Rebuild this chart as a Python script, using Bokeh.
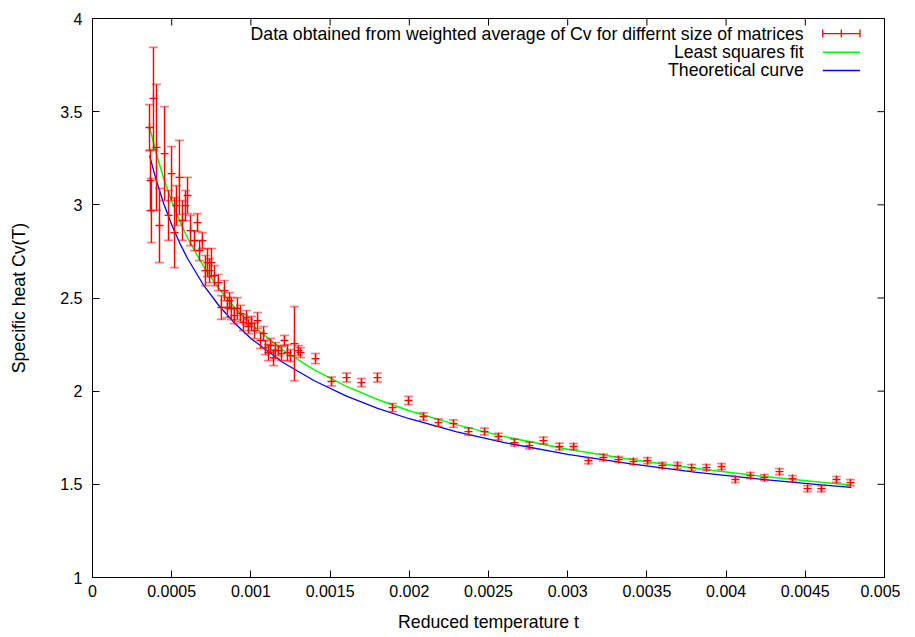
from bokeh.plotting import figure
from bokeh.models import Range1d, FixedTicker, Label, Arrow
from bokeh.embed import file_html
from bokeh.resources import INLINE

# ---------------- data ----------------
t_data = [0.000360, 0.000385, 0.000404, 0.000366, 0.000372, 0.000423, 0.000455,
          0.000480, 0.000499, 0.000518, 0.000530, 0.000549, 0.000568, 0.000587,
          0.000600, 0.000619, 0.000644, 0.000663, 0.000676, 0.000694, 0.000713,
          0.000726, 0.000739, 0.000751, 0.000770, 0.000795, 0.000814, 0.000833,
          0.000852, 0.000865, 0.000877, 0.000896, 0.000915, 0.000934, 0.000953,
          0.000972, 0.000985, 0.001004, 0.001023, 0.001042, 0.001061, 0.001080,
          0.001092, 0.001111, 0.001124, 0.001143, 0.001155, 0.001174, 0.001193,
          0.001212, 0.001231, 0.001250, 0.001275, 0.001300, 0.001313, 0.001408,
          0.001509, 0.001604, 0.001698, 0.001799, 0.001894, 0.001995, 0.002090,
          0.002184, 0.002279, 0.002374, 0.002475, 0.002563, 0.002664, 0.002759,
          0.002847, 0.002948, 0.003037, 0.003131, 0.003226, 0.003321, 0.003415,
          0.003504, 0.003598, 0.003693, 0.003782, 0.003876, 0.003971, 0.004059,
          0.004154, 0.004242, 0.004337, 0.004419, 0.004514, 0.004602, 0.004697,
          0.004785]
cv_data = [3.415, 3.571, 3.308, 3.130, 2.969, 2.889, 3.275,
           2.943, 3.168, 2.851, 2.996, 3.147, 2.916, 2.996,
           3.050, 2.862, 2.808, 2.905, 2.755, 2.808, 2.647,
           2.690, 2.647, 2.690, 2.620, 2.583, 2.449, 2.540,
           2.449, 2.486, 2.443, 2.406, 2.443, 2.417, 2.368,
           2.395, 2.347, 2.363, 2.325, 2.379, 2.272, 2.309,
           2.234, 2.207, 2.245, 2.180, 2.218, 2.218, 2.202,
           2.272, 2.207, 2.191, 2.255, 2.218, 2.207, 2.175,
           2.052, 2.073, 2.046, 2.073, 1.912, 1.950, 1.864,
           1.831, 1.826, 1.783, 1.783, 1.756, 1.724, 1.708,
           1.735, 1.703, 1.703, 1.627, 1.644, 1.633, 1.622,
           1.627, 1.601, 1.601, 1.590, 1.590, 1.595, 1.526,
           1.547, 1.536, 1.568, 1.531, 1.477, 1.477, 1.526,
           1.509]
cv_err = [0.123, 0.274, 0.338, 0.161, 0.172, 0.199, 0.252,
          0.134, 0.145, 0.188, 0.107, 0.199, 0.107, 0.081,
          0.097, 0.081, 0.054, 0.048, 0.054, 0.043, 0.081,
          0.075, 0.064, 0.075, 0.054, 0.043, 0.064, 0.054,
          0.054, 0.043, 0.059, 0.043, 0.059, 0.043, 0.043,
          0.038, 0.038, 0.038, 0.043, 0.043, 0.043, 0.038,
          0.038, 0.043, 0.038, 0.043, 0.043, 0.027, 0.038,
          0.027, 0.043, 0.032, 0.199, 0.027, 0.027, 0.027,
          0.024, 0.024, 0.022, 0.024, 0.022, 0.022, 0.020,
          0.020, 0.020, 0.020, 0.018, 0.018, 0.018, 0.018,
          0.018, 0.018, 0.016, 0.016, 0.018, 0.016, 0.016,
          0.016, 0.016, 0.016, 0.016, 0.016, 0.016, 0.016,
          0.016, 0.016, 0.016, 0.016, 0.016, 0.016, 0.016,
          0.016]

t_curve = [0.00036, 0.0004, 0.00045, 0.0005, 0.00055, 0.0006, 0.0007, 0.0008,
           0.0009, 0.001, 0.0012, 0.0014, 0.0016, 0.0018, 0.002, 0.0023,
           0.0026, 0.003, 0.0034, 0.0038, 0.0042, 0.0046, 0.00479]
cv_fit = [3.420, 3.284, 3.140, 3.019, 2.914, 2.822, 2.671, 2.548,
          2.446, 2.360, 2.222, 2.114, 2.027, 1.955, 1.895, 1.819,
          1.756, 1.688, 1.633, 1.586, 1.546, 1.511, 1.497]
cv_theory = [3.265, 3.139, 3.006, 2.893, 2.796, 2.712, 2.571, 2.457,
             2.363, 2.283, 2.155, 2.056, 1.975, 1.908, 1.852, 1.782,
             1.724, 1.661, 1.610, 1.566, 1.529, 1.497, 1.484]

x_ticks = [0, 0.0005, 0.001, 0.0015, 0.002, 0.0025, 0.003, 0.0035, 0.004, 0.0045, 0.005]
x_tick_labels = ["0", "0.0005", "0.001", "0.0015", "0.002", "0.0025", "0.003",
                 "0.0035", "0.004", "0.0045", "0.005"]
y_ticks = [1, 1.5, 2, 2.5, 3, 3.5, 4]
y_tick_labels = ["1", "1.5", "2", "2.5", "3", "3.5", "4"]

legend_labels = ["Data obtained from weighted average of Cv for differnt size of matrices",
                 "Least squares fit", "Theoretical curve"]
x_title = "Reduced temperature t"
y_title = "Specific heat Cv(T)"

# ---------------- styling ----------------
FONT = "Liberation Sans"
TICK_FS = "16px"
TEXT_FS = "17.7px"
RED, GREEN, BLUE = "#ff0000", "#00ff00", "#0000ff"
X0, X1, Y0, Y1 = 0, 0.005, 1, 4
FRAME_W, FRAME_H = 792, 559
TICK_PX = 7

p = figure(frame_width=FRAME_W, frame_height=FRAME_H,
           x_range=Range1d(X0, X1), y_range=Range1d(Y0, Y1),
           output_backend="svg", toolbar_location=None,
           min_border_left=92, min_border_top=18, min_border_right=16,
           min_border_bottom=4, background_fill_color="white",
           border_fill_color="white")
p.xgrid.visible = False
p.ygrid.visible = False
p.outline_line_color = "black"
p.outline_line_width = 1

for ax, ticks, labels in ((p.xaxis[0], x_ticks, x_tick_labels),
                          (p.yaxis[0], y_ticks, y_tick_labels)):
    ax.ticker = FixedTicker(ticks=ticks)
    ax.major_label_overrides = dict(zip(ticks, labels))
    ax.major_tick_in = TICK_PX
    ax.major_tick_out = 0
    ax.minor_tick_line_color = None
    ax.axis_line_color = "black"
    ax.major_tick_line_color = "black"
    ax.major_label_text_font = FONT
    ax.major_label_text_font_size = TICK_FS
    ax.major_label_text_color = "black"
    ax.axis_label_text_font = FONT
    ax.axis_label_text_font_size = TEXT_FS
    ax.axis_label_text_font_style = "normal"
    ax.axis_label_text_color = "black"

p.xaxis[0].axis_label = x_title
p.xaxis[0].major_label_standoff = 7
p.xaxis[0].axis_label_standoff = 12
p.yaxis[0].axis_label = y_title
p.yaxis[0].major_label_standoff = 10
p.yaxis[0].axis_label_standoff = 28

# mirrored inward ticks on top and right sides (gnuplot border style)
dy_tick = (Y1 - Y0) * TICK_PX / FRAME_H
dx_tick = (X1 - X0) * TICK_PX / FRAME_W
p.segment(x0=x_ticks, y0=[Y1] * len(x_ticks), x1=x_ticks,
          y1=[Y1 - dy_tick] * len(x_ticks), line_color="black", line_width=1)
p.segment(x0=[X1] * len(y_ticks), y0=y_ticks, x1=[X1 - dx_tick] * len(y_ticks),
          y1=y_ticks, line_color="black", line_width=1)

# ---------------- curves ----------------
p.line(t_curve, cv_theory, line_color=BLUE, line_width=1.3)
p.line(t_curve, cv_fit, line_color=GREEN, line_width=1.5)

# ---------------- data with error bars ----------------
lo = [c - e for c, e in zip(cv_data, cv_err)]
hi = [c + e for c, e in zip(cv_data, cv_err)]
p.multi_line(xs=[[t, t] for t in t_data], ys=[[a, b] for a, b in zip(lo, hi)],
             line_color=RED, line_width=1.45)
p.scatter(t_data, lo, marker="dash", size=9, line_color=RED, line_width=1.7,
          line_alpha=0.5)
p.scatter(t_data, hi, marker="dash", size=9, line_color=RED, line_width=1.7,
          line_alpha=0.5)
p.scatter(t_data, cv_data, marker="cross", size=8, line_color=RED, line_width=1.3)

# ---------------- legend (gnuplot style: text left, sample right) ----------------
LEG_TEXT_X = 0.00449
LEG_S0, LEG_S1 = 0.00461, 0.004845
LEG_ROWS = [3.919, 3.819, 3.721]
CAP = (Y1 - Y0) * 4 / FRAME_H
for lab, yy in zip(legend_labels, LEG_ROWS):
    p.add_layout(Label(x=LEG_TEXT_X, y=yy, text=lab, text_align="right",
                       text_baseline="middle", text_font=FONT,
                       text_font_size=TEXT_FS, text_color="black"))
mid = (LEG_S0 + LEG_S1) / 2
for xs, ys, xe, ye, col, lw in (
        (LEG_S0, LEG_ROWS[0], LEG_S1, LEG_ROWS[0], RED, 1.3),
        (LEG_S0, LEG_ROWS[0] - CAP, LEG_S0, LEG_ROWS[0] + CAP, RED, 1.3),
        (LEG_S1, LEG_ROWS[0] - CAP, LEG_S1, LEG_ROWS[0] + CAP, RED, 1.3),
        (mid, LEG_ROWS[0] - CAP, mid, LEG_ROWS[0] + CAP, RED, 1.3),
        (LEG_S0, LEG_ROWS[1], LEG_S1, LEG_ROWS[1], GREEN, 1.5),
        (LEG_S0, LEG_ROWS[2], LEG_S1, LEG_ROWS[2], BLUE, 1.3)):
    p.add_layout(Arrow(x_start=xs, y_start=ys, x_end=xe, y_end=ye,
                       line_color=col, line_width=lw, end=None))

open("out.html", "w").write(file_html(p, INLINE))
